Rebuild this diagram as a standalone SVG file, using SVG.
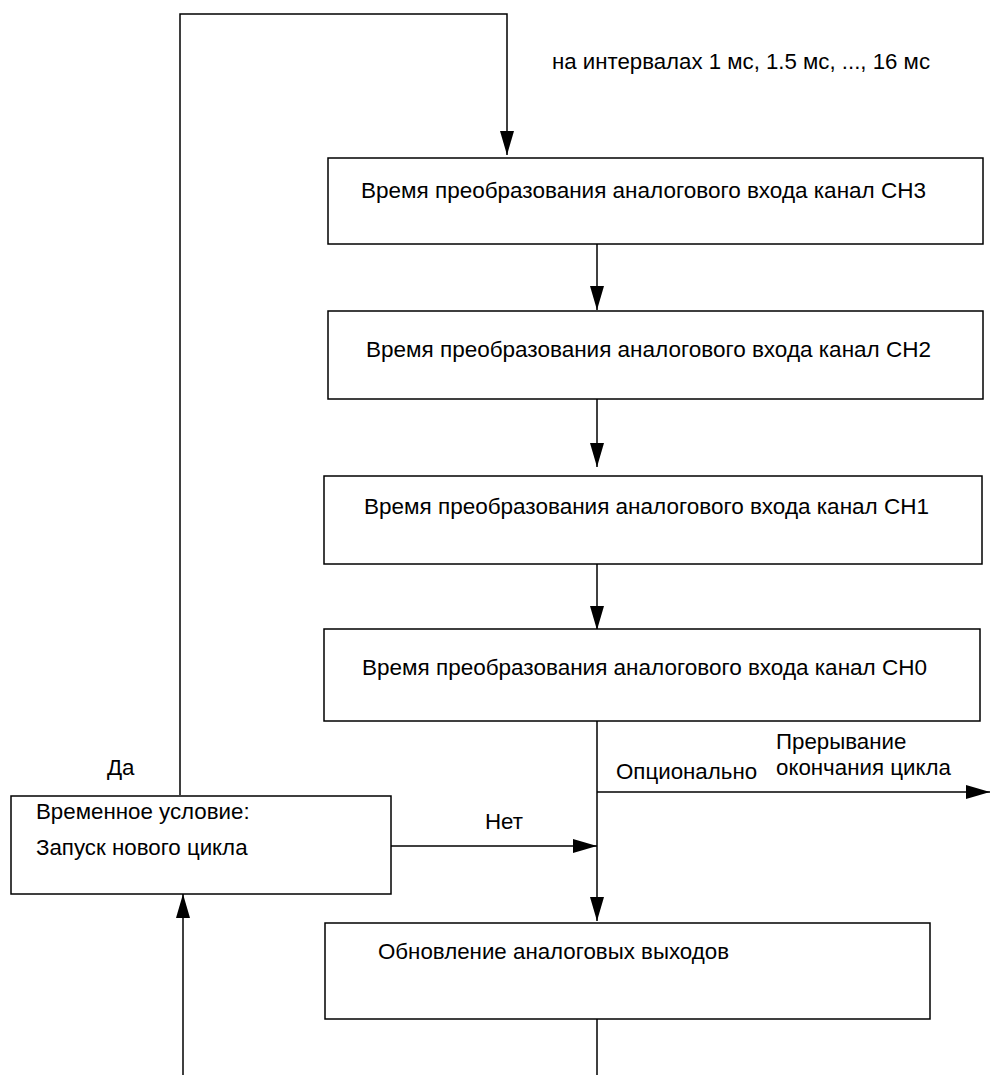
<svg xmlns="http://www.w3.org/2000/svg" width="990" height="1075" viewBox="0 0 990 1075">
<style>
.box{fill:#fff;stroke:#000;stroke-width:1.5}
.ln{fill:none;stroke:#000;stroke-width:1.5}
text{font-family:"Liberation Sans",Arial,sans-serif;font-size:22.3px;fill:#000}
</style>
<defs>
<marker id="arrH" viewBox="0 0 24 14" refX="24" refY="7" markerWidth="24" markerHeight="14" markerUnits="userSpaceOnUse" orient="0">
<path d="M0,0 L24,7 L0,14 Z" fill="#000"/>
</marker>
<marker id="arrU" viewBox="0 0 14 24" refX="7" refY="0" markerWidth="14" markerHeight="24" markerUnits="userSpaceOnUse" orient="0">
<path d="M7,0 L14,24 L0,24 Z" fill="#000"/>
</marker>
<marker id="arrD" viewBox="0 0 14 24" refX="7" refY="24" markerWidth="14" markerHeight="24" markerUnits="userSpaceOnUse" orient="0">
<path d="M0,0 L14,0 L7,24 Z" fill="#000"/>
</marker>
</defs>
<g id="connectors">
<path class="ln" d="M180,795 V14 H507 V155" marker-end="url(#arrD)"/>
<path class="ln" d="M597,244 V310" marker-end="url(#arrD)"/>
<path class="ln" d="M597,399 V467" marker-end="url(#arrD)"/>
<path class="ln" d="M597,564 V630" marker-end="url(#arrD)"/>
<path class="ln" d="M597,721 V921" marker-end="url(#arrD)"/>
<path class="ln" d="M597,792 H990" marker-end="url(#arrH)"/>
<path class="ln" d="M391,846 H597" marker-end="url(#arrH)"/>
<path class="ln" d="M183,1075 V894" marker-end="url(#arrU)"/>
<path class="ln" d="M597,1019 V1075"/>
<text x="552" y="69" textLength="378" lengthAdjust="spacingAndGlyphs">на интервалах 1 мс, 1.5 мс, ..., 16 мс</text>
<text x="107" y="775">Да</text>
<text x="485" y="829">Нет</text>
<text x="616" y="779">Опционально</text>
<text x="776" y="749">Прерывание</text>
<text x="776" y="775">окончания цикла</text>
</g>
<g id="ch3">
<rect class="box" x="328" y="158" width="655" height="86"/>
<text x="361" y="198" textLength="565" lengthAdjust="spacingAndGlyphs">Время преобразования аналогового входа канал CH3</text>
</g>
<g id="ch2">
<rect class="box" x="328" y="311" width="655" height="88"/>
<text x="366" y="357" textLength="565" lengthAdjust="spacingAndGlyphs">Время преобразования аналогового входа канал CH2</text>
</g>
<g id="ch1">
<rect class="box" x="324" y="476" width="658" height="88"/>
<text x="364" y="514" textLength="565" lengthAdjust="spacingAndGlyphs">Время преобразования аналогового входа канал CH1</text>
</g>
<g id="ch0">
<rect class="box" x="324" y="629" width="656" height="92"/>
<text x="362" y="675" textLength="565" lengthAdjust="spacingAndGlyphs">Время преобразования аналогового входа канал CH0</text>
</g>
<g id="condition">
<rect class="box" x="11" y="796" width="380" height="98"/>
<text x="36" y="819">Временное условие:</text>
<text x="36" y="855">Запуск нового цикла</text>
</g>
<g id="update">
<rect class="box" x="325" y="923" width="605" height="96"/>
<text x="378" y="959" textLength="351" lengthAdjust="spacingAndGlyphs">Обновление аналоговых выходов</text>
</g>
</svg>
